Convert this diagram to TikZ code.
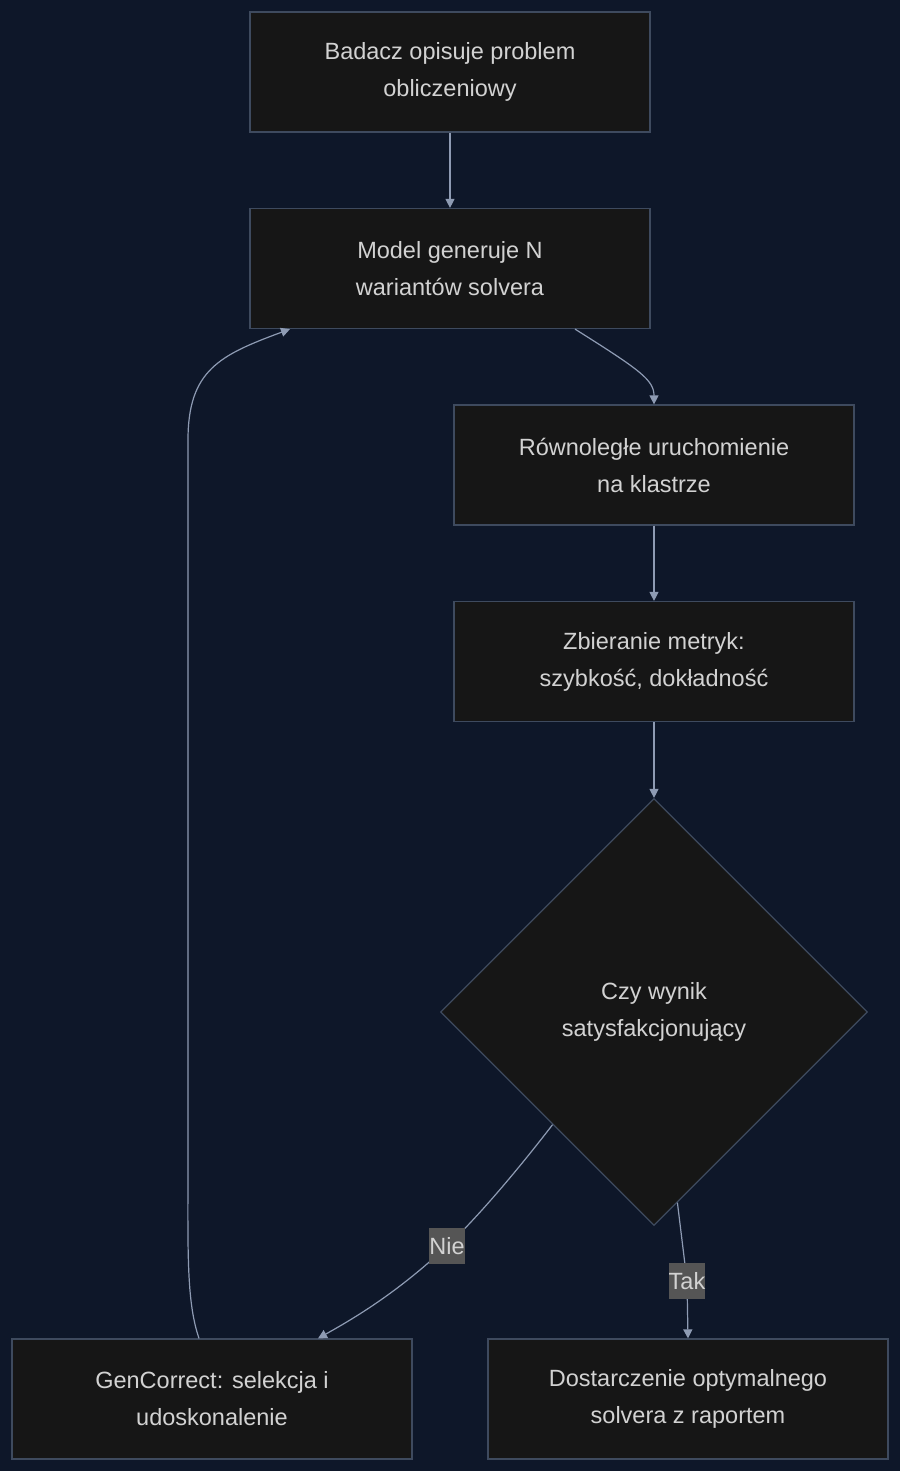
\documentclass[tikz,border=0pt]{standalone}
\usepackage{fontspec}
\setmainfont{Liberation Sans}
\usetikzlibrary{shapes.geometric,arrows.meta}
\definecolor{bg}{HTML}{0E1729}
\definecolor{nf}{HTML}{161616}
\definecolor{nb}{HTML}{3E4A5E}
\definecolor{tx}{HTML}{D2D2D2}
\definecolor{ed}{HTML}{8E9BB3}
\definecolor{lb}{HTML}{555555}
\begin{document}
\begin{tikzpicture}[x=1pt,y=-1pt,
  box/.style={draw=nb,fill=nf,line width=1.2pt,minimum width=400pt,minimum height=120pt,inner sep=0,align=center,text=tx,font=\fontsize{23.5}{37}\selectfont},
  dia/.style={diamond,draw=nb,fill=nf,line width=1.2pt,minimum width=427pt,minimum height=427pt,inner sep=0,align=center,text=tx,font=\fontsize{23.5}{37}\selectfont},
  lab/.style={fill=lb,text=tx,inner sep=0pt,minimum height=36pt,font=\fontsize{23.5}{26}\selectfont},
  arr/.style={draw=ed,line width=1.2pt,-{Triangle[width=9pt,length=9pt]}}]
\fill[bg] (0,0) rectangle (900,1471);
\useasboundingbox (0,0) rectangle (900,1471);
\node[box] (A) at (450,72) {Badacz opisuje problem\\obliczeniowy};
\node[box] (B) at (450,268.5) {Model generuje N\\ wariantów solvera};
\node[box] (C) at (654,465) {Równoległe uruchomienie\\na klastrze};
\node[box] (D) at (654,661.5) {Zbieranie metryk:\\ szybkość, dokładność};
\node[dia] (E) at (654,1012) {Czy wynik\\satysfakcjonujący};
\node[box] (F) at (212,1399) {GenCorrect: selekcja i\\udoskonalenie};
\node[box] (G) at (688,1399) {Dostarczenie optymalnego\\solvera z raportem};
\draw[arr] (A) -- (B);
\draw[arr] ([xshift=125pt]B.south) .. controls (640,370) and (654,380) .. (C.north);
\draw[arr] (C) -- (D);
\draw[arr] (D) -- (E.north);
\draw[draw=ed,line width=1.2pt] (E.228.7) .. controls (510,1180) and (470,1225) .. (447,1246) coordinate (n);
\draw[arr] (n) .. controls (400,1290) and (360,1315) .. ([xshift=106pt]F.north);
\node[lab] (nie) at (n) {Nie};
\draw[arr] (E.277) -- (687,1281) node[lab] (tak) {Tak} -- (G.north);
\draw[arr] ([xshift=-13pt]F.north) .. controls (186,1300) and (188,1250) .. (188,1150) -- (188,440) .. controls (188,370) and (220,355) .. ([xshift=-160pt]B.south);
\end{tikzpicture}
\end{document}
